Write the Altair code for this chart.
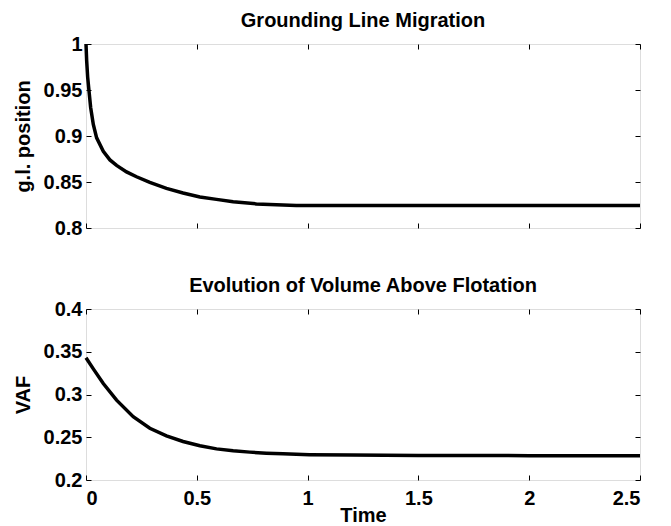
import altair as alt
import pandas as pd

# Grounding line position vs time
t_gl = [0, 0.003, 0.0075, 0.0135, 0.021, 0.033, 0.048, 0.078, 0.108, 0.138, 0.183, 0.228, 0.288,
        0.363, 0.438, 0.514, 0.589, 0.664, 0.769, 0.949, 1.2, 1.5, 2.0, 2.5]
gl_pos = [1.0, 0.982, 0.964, 0.949, 0.931, 0.9126, 0.898, 0.8833, 0.874, 0.868, 0.861, 0.8557, 0.8495,
          0.843, 0.838, 0.8337, 0.8311, 0.8285, 0.8262, 0.8245, 0.8245, 0.8245, 0.8245, 0.8245]

# Volume above flotation vs time
t_vaf = [0, 0.033, 0.078, 0.138, 0.213, 0.288, 0.363, 0.438, 0.514, 0.589, 0.664, 0.739, 0.814,
         0.889, 1.009, 1.2, 1.5, 2.0, 2.5]
vaf = [0.343, 0.330, 0.3128, 0.2934, 0.274, 0.2605, 0.2516, 0.245, 0.240, 0.2364, 0.2341, 0.2326,
       0.2314, 0.2306, 0.2296, 0.2291, 0.2287, 0.2285, 0.2285]

x_ticks = [0, 0.5, 1, 1.5, 2, 2.5]
gl_ticks = [0.8, 0.85, 0.9, 0.95, 1]
vaf_ticks = [0.2, 0.25, 0.3, 0.35, 0.4]

df_gl = pd.DataFrame({"t": t_gl, "v": gl_pos})
df_vaf = pd.DataFrame({"t": t_vaf, "v": vaf})

FONT = "Liberation Sans"
TICK = 5


def ax(orient, values, labels, title=None, pad=4, tpad=8):
    kw = dict(orient=orient, values=values, labels=labels, tickSize=TICK, offset=-TICK,
              domain=False, grid=False, ticks=True, tickColor="black", tickWidth=1,
              labelPadding=pad, format="~g", labelFont=FONT, labelFontSize=20,
              labelFontWeight="bold", labelColor="black")
    if title is not None:
        kw.update(title=title, titleFont=FONT, titleFontSize=20, titleFontWeight="bold",
                  titleColor="black", titlePadding=tpad)
    else:
        kw.update(title=None)
    return alt.Axis(**kw)


def panel(df, yticks, ydomain, ytitle, title, show_x_labels, height):
    main = alt.Chart(df).mark_line(color="black", strokeWidth=3.5).encode(
        x=alt.X("t:Q", scale=alt.Scale(domain=[0, 2.5], nice=False),
                axis=ax("bottom", x_ticks, show_x_labels, "Time" if show_x_labels else None,
                        pad=8, tpad=-3)),
        y=alt.Y("v:Q", scale=alt.Scale(domain=ydomain, nice=False, zero=False),
                axis=ax("left", yticks, True, ytitle, pad=4, tpad=10)),
    )
    other = alt.Chart(df).mark_line(opacity=0).encode(
        x=alt.X("t:Q", scale=alt.Scale(domain=[0, 2.5], nice=False),
                axis=ax("top", x_ticks, False)),
        y=alt.Y("v:Q", scale=alt.Scale(domain=ydomain, nice=False, zero=False),
                axis=ax("right", yticks, False)),
    )
    return alt.layer(main, other).resolve_axis(x="independent", y="independent").properties(
        width=554, height=height,
        title=alt.TitleParams(title, font=FONT, fontSize=20, fontWeight="bold", color="black",
                              offset=3),
    )


top = panel(df_gl, gl_ticks, [0.8, 1.0], "g.l. position", "Grounding Line Migration", False, 184)
bottom = panel(df_vaf, vaf_ticks, [0.2, 0.4], "VAF", "Evolution of Volume Above Flotation", True, 171)

chart = alt.vconcat(top, bottom, spacing=36).configure_view(
    stroke="black", strokeWidth=1.2
).configure(background="white", padding={"left": 4, "top": 2, "right": 5, "bottom": 0})

chart.save("out.html", embed_options={"renderer": "svg", "actions": False})
